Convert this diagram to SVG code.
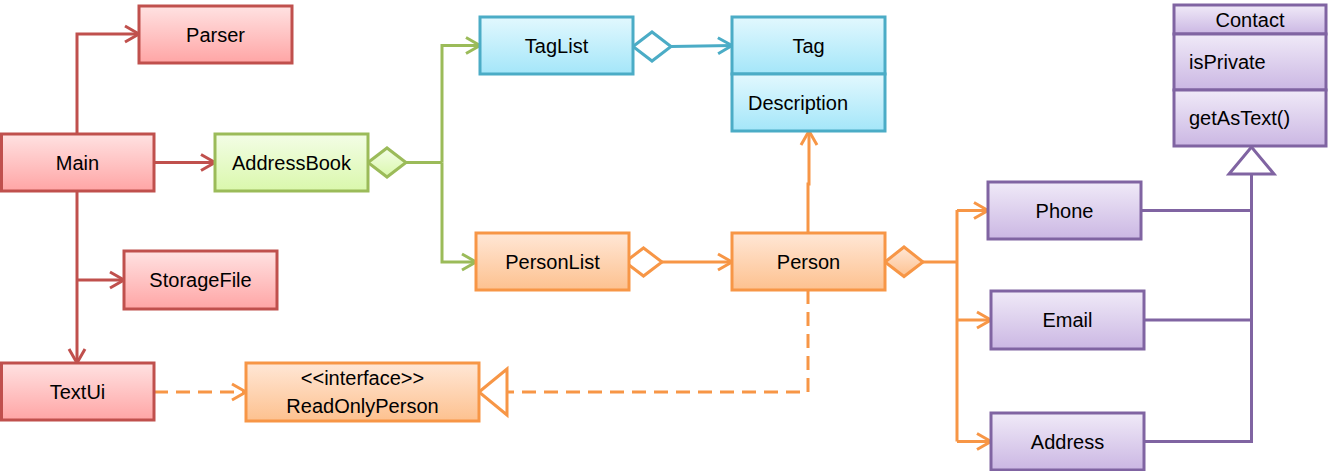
<svg xmlns="http://www.w3.org/2000/svg" width="1328" height="471" viewBox="0 0 1328 471">
<defs>
<linearGradient id="gRed" x1="0" y1="0" x2="0" y2="1"><stop offset="0" stop-color="#FFE2E2"/><stop offset="1" stop-color="#FFA5A5"/></linearGradient>
<linearGradient id="gGreen" x1="0" y1="0" x2="0" y2="1"><stop offset="0" stop-color="#F3FDE6"/><stop offset="1" stop-color="#DAF8AC"/></linearGradient>
<linearGradient id="gBlue" x1="0" y1="0" x2="0" y2="1"><stop offset="0" stop-color="#E2F8FE"/><stop offset="1" stop-color="#A4E6F9"/></linearGradient>
<linearGradient id="gOrange" x1="0" y1="0" x2="0" y2="1"><stop offset="0" stop-color="#FFE7D6"/><stop offset="1" stop-color="#FDC18F"/></linearGradient>
<linearGradient id="gPurple" x1="0" y1="0" x2="0" y2="1"><stop offset="0" stop-color="#F0EAF8"/><stop offset="1" stop-color="#CBB7E3"/></linearGradient>
<marker id="aRed" markerUnits="userSpaceOnUse" markerWidth="20" markerHeight="20" refX="15" refY="9" orient="auto" overflow="visible"><path d="M1,1 L15,9 L1,17" fill="none" stroke="#C0504D" stroke-width="3"/></marker>
<marker id="aGreen" markerUnits="userSpaceOnUse" markerWidth="20" markerHeight="20" refX="15" refY="9" orient="auto" overflow="visible"><path d="M1,1 L15,9 L1,17" fill="none" stroke="#9BBB59" stroke-width="3"/></marker>
<marker id="aBlue" markerUnits="userSpaceOnUse" markerWidth="20" markerHeight="20" refX="15" refY="9" orient="auto" overflow="visible"><path d="M1,1 L15,9 L1,17" fill="none" stroke="#4BACC6" stroke-width="3"/></marker>
<marker id="aOrange" markerUnits="userSpaceOnUse" markerWidth="20" markerHeight="20" refX="15" refY="9" orient="auto" overflow="visible"><path d="M1,1 L15,9 L1,17" fill="none" stroke="#F79646" stroke-width="3"/></marker>
</defs>
<style>
text{font-family:"Liberation Sans",Arial,sans-serif;font-size:20px;fill:#000}
.c{text-anchor:middle;dominant-baseline:central}
.l{text-anchor:start;dominant-baseline:central}
.red{fill:url(#gRed);stroke:#C0504D;stroke-width:3}
.green{fill:url(#gGreen);stroke:#9BBB59;stroke-width:3}
.blue{fill:url(#gBlue);stroke:#4BACC6;stroke-width:3}
.orange{fill:url(#gOrange);stroke:#F79646;stroke-width:3}
.purple{fill:url(#gPurple);stroke:#8064A2;stroke-width:3}
.lr{fill:none;stroke:#C0504D;stroke-width:3}
.lg{fill:none;stroke:#9BBB59;stroke-width:3}
.lb{fill:none;stroke:#4BACC6;stroke-width:3}
.lo{fill:none;stroke:#F79646;stroke-width:3}
.lp{fill:none;stroke:#8064A2;stroke-width:3}
.dash{stroke-dasharray:14 8}
</style>
<g id="connectors">
<path class="lr" d="M77,134 V34 H139" marker-end="url(#aRed)"/>
<path class="lr" d="M154,162.5 H215" marker-end="url(#aRed)"/>
<path class="lr" d="M77,191 V363" marker-end="url(#aRed)"/>
<path class="lr" d="M77,280 H124" marker-end="url(#aRed)"/>
<path class="lg" d="M406,162.5 H442"/>
<path class="lg" d="M442,162.5 V45.5 H480" marker-end="url(#aGreen)"/>
<path class="lg" d="M442,162.5 V262 H476" marker-end="url(#aGreen)"/>
<polygon class="green" points="368,162.5 387,148 406,162.5 387,177"/>
<path class="lb" d="M671,46.5 L732,45.5" marker-end="url(#aBlue)"/>
<polygon points="633,46.5 652,32 671,46.5 652,61" fill="#fff" stroke="#4BACC6" stroke-width="3"/>
<path class="lo" d="M662,262 H732" marker-end="url(#aOrange)"/>
<polygon points="625,262 643.5,248 662,262 643.5,276" fill="#fff" stroke="#F79646" stroke-width="3"/>
<path class="lo" d="M808,233 V184 H809 V131" marker-end="url(#aOrange)"/>
<path class="lo" d="M923,262 H957 M957,210 V441.5"/>
<path class="lo" d="M957,210.5 H988" marker-end="url(#aOrange)"/>
<path class="lo" d="M957,320 H991" marker-end="url(#aOrange)"/>
<path class="lo" d="M957,441.5 H991" marker-end="url(#aOrange)"/>
<polygon class="orange" points="885,262 904,247 923,262 904,276.5"/>
<path class="lo dash" d="M154,392 H246" marker-end="url(#aOrange)"/>
<path class="lo dash" d="M808,290 V392 H507"/>
<polygon points="479,392 507,369 507,415" fill="#fff" stroke="#F79646" stroke-width="3"/>
<path class="lp" d="M1141,210.5 H1251.5 M1144,320 H1251.5 M1144,441.5 H1251.5 V174"/>
<polygon points="1251.5,147 1229,174 1274,174" fill="#fff" stroke="#8064A2" stroke-width="3"/>
</g>
<g id="Parser"><rect class="red" x="139" y="6" width="153" height="57"/><text class="c" x="215.5" y="34.5">Parser</text></g>
<g id="Main"><rect class="red" x="1.5" y="134" width="152.5" height="57"/><text class="c" x="77.5" y="162.5">Main</text></g>
<g id="StorageFile"><rect class="red" x="124" y="251" width="153" height="58"/><text class="c" x="200.5" y="280">StorageFile</text></g>
<g id="TextUi"><rect class="red" x="1.5" y="363" width="152.5" height="57"/><text class="c" x="77.5" y="391.5">TextUi</text></g>
<g id="AddressBook"><rect class="green" x="215" y="134" width="153" height="57"/><text class="c" x="291.5" y="162.5">AddressBook</text></g>
<g id="TagList"><rect class="blue" x="480" y="17" width="153" height="57"/><text class="c" x="556.5" y="45.5">TagList</text></g>
<g id="Tag"><rect class="blue" x="732" y="17" width="153" height="57"/><rect class="blue" x="732" y="74" width="153" height="57"/><text class="c" x="808.5" y="45.5">Tag</text><text class="l" x="748" y="102.5">Description</text></g>
<g id="PersonList"><rect class="orange" x="476" y="233" width="153" height="57"/><text class="c" x="552.5" y="261.5">PersonList</text></g>
<g id="Person"><rect class="orange" x="732" y="233" width="153" height="57"/><text class="c" x="808.5" y="261.5">Person</text></g>
<g id="ReadOnlyPerson"><rect class="orange" x="246" y="363" width="233" height="58"/><text class="c" x="362.5" y="378">&lt;&lt;interface&gt;&gt;</text><text class="c" x="362.5" y="405.5">ReadOnlyPerson</text></g>
<g id="Phone"><rect class="purple" x="988" y="182" width="153" height="57"/><text class="c" x="1064.5" y="210.5">Phone</text></g>
<g id="Email"><rect class="purple" x="991" y="291" width="153" height="58"/><text class="c" x="1067.5" y="320">Email</text></g>
<g id="Address"><rect class="purple" x="991" y="413" width="153" height="57"/><text class="c" x="1067.5" y="441.5">Address</text></g>
<g id="Contact"><rect class="purple" x="1174" y="5" width="152" height="29"/><rect class="purple" x="1174" y="34" width="152" height="56"/><rect class="purple" x="1174" y="90" width="152" height="56"/><text class="c" x="1250" y="19.5">Contact</text><text class="l" x="1189" y="62">isPrivate</text><text class="l" x="1189" y="118">getAsText()</text></g>
</svg>
